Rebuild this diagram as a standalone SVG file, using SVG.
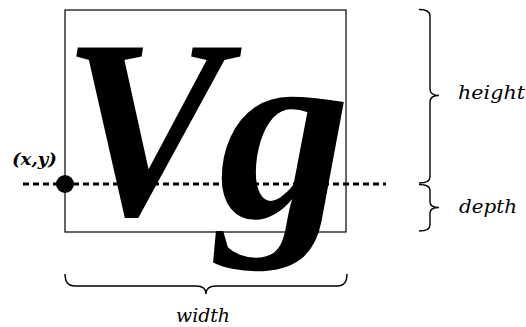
<svg xmlns="http://www.w3.org/2000/svg" width="526" height="327" viewBox="0 0 526 327">
<style>
.lbl{font-family:"DejaVu Serif","Liberation Serif",serif;font-style:italic;font-size:19px;fill:#000}
.pt{font-family:"DejaVu Serif","Liberation Serif",serif;font-style:italic;font-weight:bold;font-size:17px;fill:#000}
.big{font-family:"Liberation Serif","Times New Roman",serif;font-style:italic;font-weight:bold;font-size:263px;fill:#000}
.brace{fill:none;stroke:#000;stroke-width:1.4}
</style>
<rect width="526" height="327" fill="#fff"/>
<g id="box">
<rect x="65" y="10" width="281" height="222" fill="none" stroke="#000" stroke-width="1.2"/>
</g>
<g id="glyphs">
<text class="big" transform="translate(62,214) scale(0.93,0.97)">V</text>
<text class="big" transform="translate(218,217) scale(1.01,0.97)">g</text>
</g>
<g id="connectors">
<line x1="23" y1="184" x2="386" y2="184" stroke="#000" stroke-width="3" stroke-dasharray="6 4"/>
<path class="brace" d="M419,9.5 Q430,9.5 430,16 L430,89 Q430,95.5 439,95.5 Q430,95.5 430,102 L430,177 Q430,183 419,183"/>
<path class="brace" d="M419,184.5 Q430,184.5 430,190 L430,202 Q430,207.5 439,207.5 Q430,207.5 430,213 L430,225 Q430,231 419,231"/>
<path class="brace" d="M65,274 Q65,286 75,286 L196,286 Q206,286 206,294 Q206,286 216,286 L337,286 Q347,286 347,274"/>
</g>
<g id="origin">
<circle cx="65" cy="184" r="9" fill="#000"/>
<text class="pt" x="12" y="165" textLength="45" lengthAdjust="spacingAndGlyphs">(x,y)</text>
</g>
<g id="labels">
<text class="lbl" x="458" y="99" textLength="67" lengthAdjust="spacingAndGlyphs">height</text>
<text class="lbl" x="459" y="213" textLength="58" lengthAdjust="spacingAndGlyphs">depth</text>
<text class="lbl" x="176" y="322" textLength="54" lengthAdjust="spacingAndGlyphs">width</text>
</g>
</svg>
